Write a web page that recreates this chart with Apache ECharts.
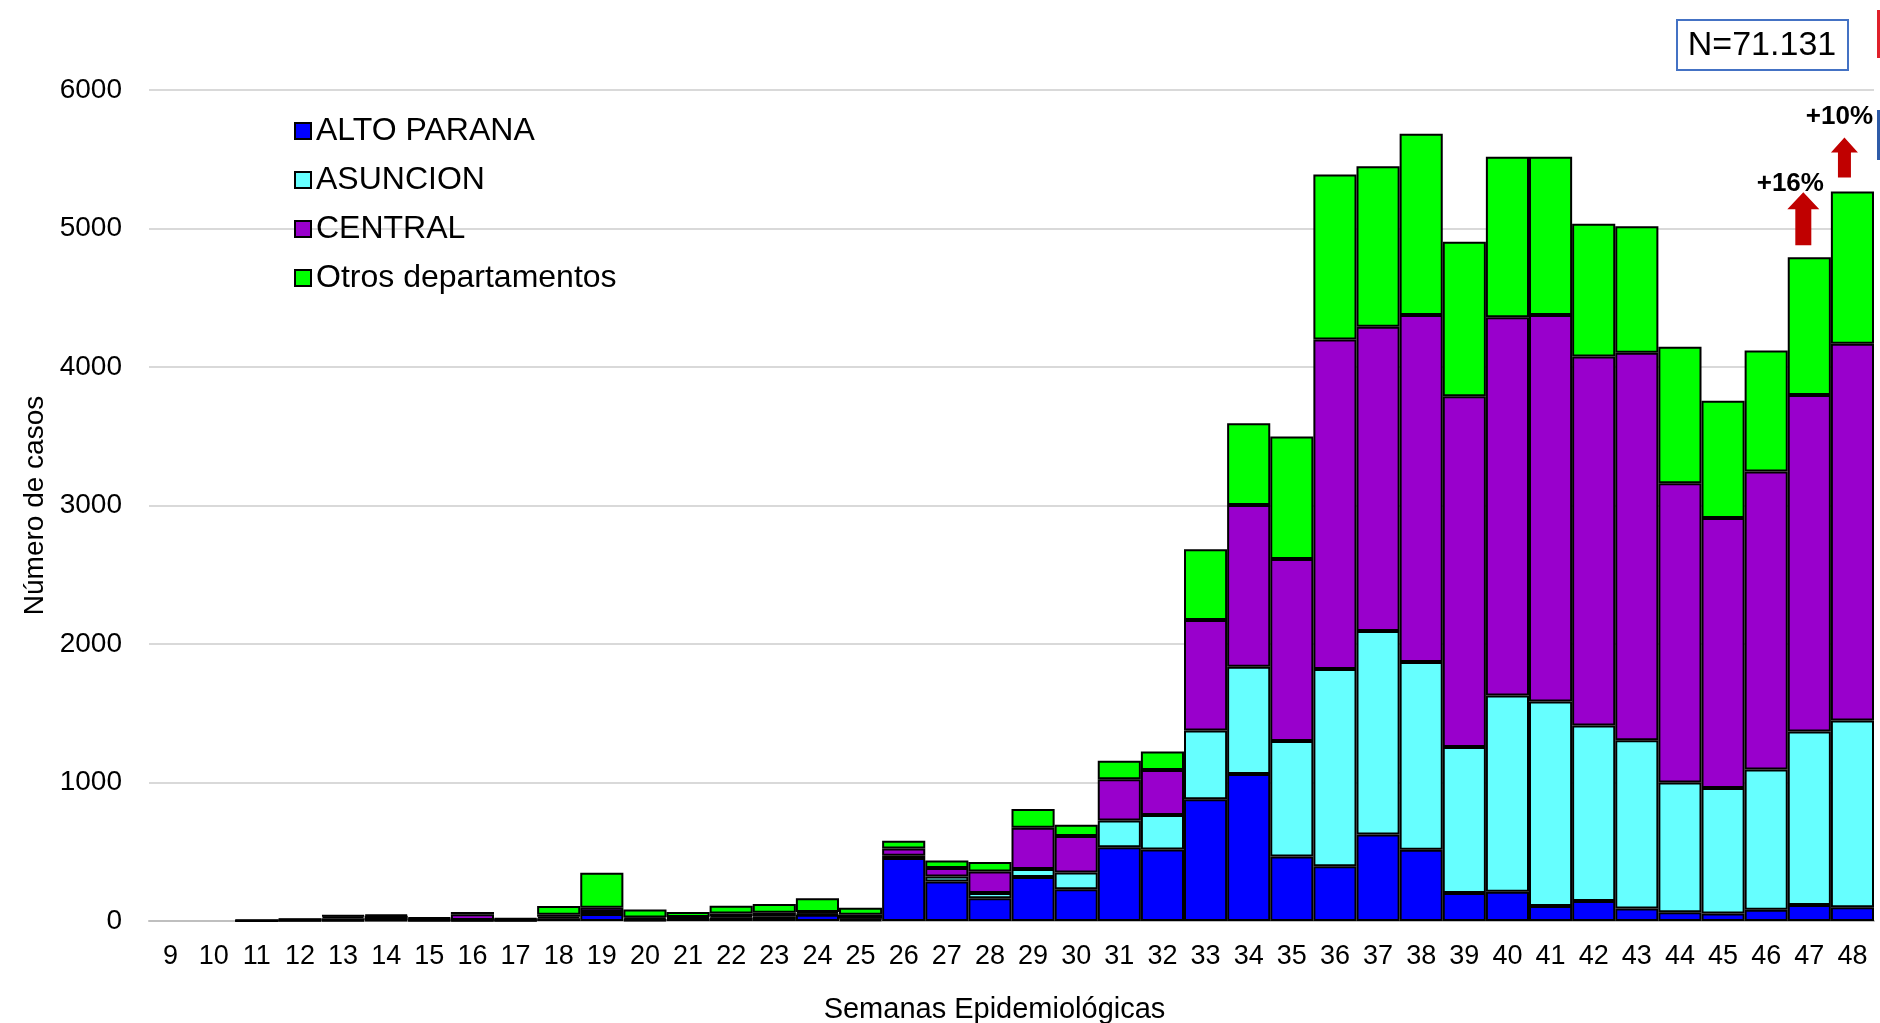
<!DOCTYPE html>
<html>
<head>
  <meta charset="utf-8">
  <title>Semanas Epidemiológicas</title>
  <script src="https://cdn.jsdelivr.net/npm/echarts@6/dist/echarts.min.js"></script>
  <style type="text/css">
    body {
      margin: 0;
      background: #fff;
    }

    #chart {
      width: 1880px;
      height: 1023px;
    }
  </style>
</head>
<body>
<div id="chart"></div>
<script>
  // semanas epidemiológicas 9..48
  var weeks = ['9', '10', '11', '12', '13', '14', '15', '16', '17', '18', '19', '20', '21', '22', '23', '24', '25',
    '26', '27', '28', '29', '30', '31', '32', '33', '34', '35', '36', '37', '38', '39', '40', '41', '42', '43', '44',
    '45', '46', '47', '48'];
  // casos por departamento
  var altoParana = [0, 0, 1, 3, 5, 6, 5, 3, 4, 20, 50, 8, 15, 25, 15, 45, 10,
    455, 286, 165, 317, 230, 533, 516, 879, 1062, 466, 395, 624, 515, 203, 212, 108, 144, 90, 64,
    55, 82, 116, 100];
  var asuncion = [0, 0, 2, 4, 15, 15, 6, 5, 4, 10, 15, 5, 6, 10, 15, 8, 6,
    17, 36, 38, 58, 121, 193, 249, 496, 773, 833, 1425, 1470, 1355, 1053, 1416, 1476, 1268, 1215, 936,
    905, 1012, 1252, 1348];
  var central = [0, 0, 1, 4, 14, 17, 8, 40, 6, 15, 30, 12, 8, 20, 30, 12, 30,
    51, 61, 155, 298, 262, 298, 325, 798, 1169, 1315, 2378, 2196, 2506, 2532, 2732, 2792, 2663, 2797, 2160,
    1950, 2151, 2430, 2720];
  var otros = [0, 0, 1, 3, 7, 8, 7, 17, 5, 63, 253, 58, 36, 56, 63, 100, 50,
    56, 53, 68, 136, 82, 133, 133, 511, 589, 884, 1192, 1160, 1308, 1117, 1158, 1142, 960, 914, 986,
    846, 875, 994, 1100];
  // variación de las últimas semanas
  var notas = [
    {week: '47', text: '+16%'},
    {week: '48', text: '+10%'}
  ];

  var font = "'Liberation Sans', Arial, sans-serif";
  var chart = echarts.init(document.getElementById('chart'));

  function serie(name, data, color) {
    return {
      name: name,
      type: 'bar',
      stack: 'casos',
      // semanas sin casos: sin barra
      data: data.map(function (v) {
        return v === 0 ? '-' : v;
      }),
      barCategoryGap: '0%',
      itemStyle: {
        color: color,
        borderColor: '#000',
        borderWidth: 2
      }
    };
  }

  chart.setOption({
    animation: false,
    textStyle: {fontFamily: font},
    grid: {left: 149, right: 6, top: 90, bottom: 102, outerBoundsMode: 'none'},
    legend: {
      orient: 'vertical',
      left: 289,
      top: 110,
      icon: 'rect',
      itemWidth: 16,
      itemHeight: 16,
      itemGap: 17,
      textStyle: {fontSize: 32, color: '#000', fontFamily: font},
      data: ['ALTO PARANA', 'ASUNCION', 'CENTRAL', 'Otros departamentos']
    },
    xAxis: {
      type: 'category',
      data: weeks,
      name: 'Semanas Epidemiológicas',
      nameLocation: 'middle',
      nameGap: 74,
      nameTextStyle: {fontSize: 29, color: '#000', padding: [0, 34, 0, 0]},
      axisLine: {lineStyle: {color: '#BFBFBF', width: 2}},
      axisTick: {show: false},
      axisLabel: {fontSize: 27, color: '#000', margin: 22, interval: 0}
    },
    yAxis: {
      type: 'value',
      min: 0,
      max: 6000,
      interval: 1000,
      name: 'Número de casos',
      nameLocation: 'middle',
      nameGap: 93,
      nameTextStyle: {fontSize: 28, color: '#000'},
      axisLine: {show: false},
      axisTick: {show: false},
      axisLabel: {
        fontSize: 28, color: '#000', margin: 27,
        formatter: function (v) {
          return String(v);
        }
      },
      splitLine: {lineStyle: {color: '#D9D9D9', width: 2}}
    },
    series: [
      serie('ALTO PARANA', altoParana, '#0000FF'),
      serie('ASUNCION', asuncion, '#66FFFF'),
      serie('CENTRAL', central, '#9900CC'),
      serie('Otros departamentos', otros, '#00FF00')
    ]
  });

  // flechas de variación sobre las barras
  function total(i) {
    return altoParana[i] + asuncion[i] + central[i] + otros[i];
  }

  function flecha(cx, y0, h, w, sw, hh) {
    return {
      type: 'polygon',
      shape: {
        points: [[cx - sw / 2, y0], [cx - sw / 2, y0 - h + hh], [cx - w / 2, y0 - h + hh], [cx, y0 - h],
          [cx + w / 2, y0 - h + hh], [cx + sw / 2, y0 - h + hh], [cx + sw / 2, y0]]
      },
      style: {fill: '#C00000'}
    };
  }

  var dims = [
    {dx: -6, gap: 12, h: 53, w: 32, sw: 16, hh: 17, tdx: -19, tdy: 8},
    {dx: -8, gap: 14, h: 40, w: 27, sw: 13, hh: 15, tdx: -13, tdy: 21}
  ];
  var graphics = [];
  notas.forEach(function (n, k) {
    var i = weeks.indexOf(n.week);
    var p = chart.convertToPixel({gridIndex: 0}, [n.week, total(i)]);
    var d = dims[k];
    var cx = p[0] + d.dx;
    var y0 = p[1] - d.gap;
    graphics.push(flecha(cx, y0, d.h, d.w, d.sw, d.hh));
    graphics.push({
      type: 'text',
      x: p[0] + d.tdx,
      y: y0 - d.h - d.tdy,
      style: {
        text: n.text, fontSize: 26, fontWeight: 'bold', fontFamily: font,
        fill: '#000', align: 'center', verticalAlign: 'middle'
      }
    });
  });

  // recuadro con el total
  graphics.push({
    type: 'group',
    left: 1676,
    top: 19,
    children: [
      {type: 'rect', shape: {x: 0, y: 0, width: 171, height: 50}, style: {fill: '#fff', stroke: '#4472C4', lineWidth: 2}},
      {
        type: 'text', x: 85, y: 26,
        style: {text: 'N=71.131', fontSize: 34, fontFamily: font, fill: '#000', align: 'center', verticalAlign: 'middle'}
      }
    ]
  });
  // bordes cortados a la derecha
  graphics.push({type: 'rect', left: 1877, top: 10, shape: {width: 3, height: 48}, style: {fill: '#E0202A'}});
  graphics.push({type: 'rect', left: 1877, top: 110, shape: {width: 3, height: 50}, style: {fill: '#2E5BA8'}});

  chart.setOption({graphic: graphics});
</script>
</body>
</html>
